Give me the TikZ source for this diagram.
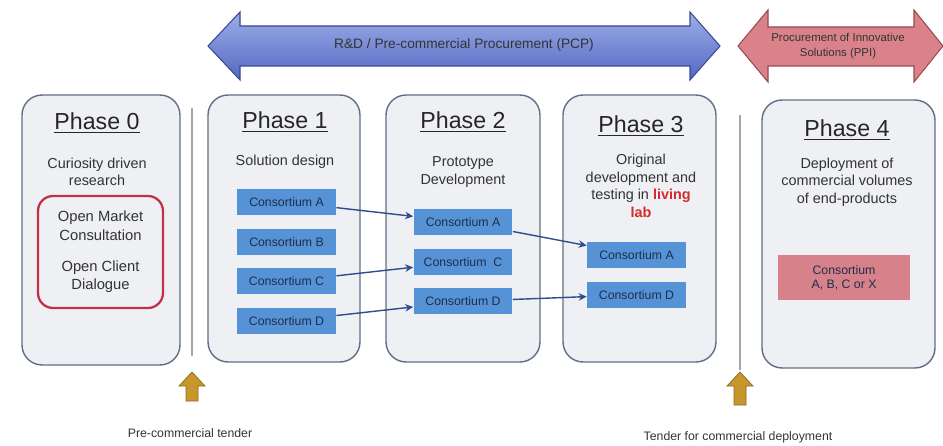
\documentclass[tikz,border=0pt]{standalone}
\usepackage{fontspec}
\setmainfont{Liberation Sans}
\usepackage{xcolor}
\usepackage{tikz}
\usetikzlibrary{arrows.meta, positioning}

\definecolor{phasefill}{HTML}{EEF0F4}
\definecolor{phaseline}{HTML}{5F6F86}
\definecolor{consblue}{HTML}{5693D6}
\definecolor{constext}{HTML}{1F2D4A}
\definecolor{linkblue}{HTML}{2F4D8C}
\definecolor{pcptop}{HTML}{9DAEE8}
\definecolor{pcpbot}{HTML}{5467C2}
\definecolor{pcpline}{HTML}{3A4A90}
\definecolor{ppifill}{HTML}{D9828A}
\definecolor{ppiline}{HTML}{9A4A52}
\definecolor{consrose}{HTML}{D7828A}
\definecolor{ringred}{HTML}{BE3446}
\definecolor{livingred}{HTML}{D42A2A}
\definecolor{gold}{HTML}{C9962B}
\definecolor{goldline}{HTML}{8A6A20}

\begin{document}
\begin{tikzpicture}[
    x=0.02cm, y=-0.02cm,
    node distance=0.26cm and 0.5cm,
    phase/.style={draw=phaseline, fill=phasefill, line width=0.8pt, rounded corners=0.4cm, minimum height=5.34cm},
    title/.style={font=\fontsize{13.2}{15}\selectfont, text=black!85},
    sub/.style={font=\fontsize{8.2}{10}\selectfont, align=center, text=black!80},
    cons/.style={fill=consblue, minimum width=1.98cm, minimum height=0.52cm, font=\fontsize{7}{8}\selectfont, text=constext, inner sep=0pt},
    link/.style={-{Stealth[length=1.6mm, width=1.5mm]}, draw=linkblue, line width=0.8pt},
    sep/.style={draw=gray!70, line width=1.2pt},
    tender/.style={fill=gold, draw=goldline, line width=0.4pt},
    foot/.style={font=\fontsize{7}{9}\selectfont, text=black!80}
]
\useasboundingbox (0,0) rectangle (943,446);

% Top arrows
\draw[pcpline, line width=0.6pt, top color=pcptop, bottom color=pcpbot]
    (208,46) -- (240,12) -- (240,26) -- (690,26) -- (690,12) -- (720,46)
    -- (690,80) -- (690,66) -- (240,66) -- (240,80) -- cycle;
\node[font=\fontsize{7.8}{9}\selectfont, text=black!80] (pcp) at (464,45) {R\&D / Pre-commercial Procurement (PCP)};
\draw[ppiline, line width=0.6pt, fill=ppifill]
    (738,46) -- (768,10) -- (768,27) -- (914,27) -- (914,10) -- (943,46)
    -- (914,82) -- (914,66) -- (768,66) -- (768,82) -- cycle;
\node[font=\fontsize{6.5}{8.6}\selectfont, align=center, text=black!80] (ppi) at (838,46) {Procurement of Innovative\\Solutions (PPI)};

% Phase boxes
\node[phase, minimum width=3.16cm, minimum height=5.4cm] (ph0) at (101,230) {};
\node[phase, minimum width=3.04cm] (ph1) at (284,228.5) {};
\node[phase, minimum width=3.08cm] (ph2) at (463,228.5) {};
\node[phase, minimum width=3.06cm] (ph3) at (639.5,228.5) {};
\node[phase, minimum width=3.46cm, minimum height=5.36cm] (ph4) at (848.5,234) {};

% Separators
\coordinate (s0top) at (192,108);
\coordinate (s0bot) at (192,356);
\coordinate (s1top) at (740,115);
\coordinate (s1bot) at (740,370);
\draw[sep] (s0top) -- (s0bot);
\draw[sep] (s1top) -- (s1bot);

% Titles
\node[title] (t0) at (97,123) {\underline{Phase 0}};
\node[title] (t1) at (285,122) {\underline{Phase 1}};
\node[title] (t2) at (463,122) {\underline{Phase 2}};
\node[title] (t3) at (641,126) {\underline{Phase 3}};
\node[title] (t4) at (847,130) {\underline{Phase 4}};

\node[sub] (d0) at (97,172) {Curiosity driven\\research};
\node[sub] (d1) at (285,162) {Solution design};
\node[sub] (d2) at (463,172) {Prototype\\Development};
\node[sub] (d3) at (641,186) {Original\\development and\\testing in \textcolor{livingred}{\textbf{living}}\\\textcolor{livingred}{\textbf{lab}}};
\node[sub] (d4) at (847,182) {Deployment of\\commercial volumes\\of end-products};

% Phase 0 dialogue
\node[draw=ringred, line width=1.3pt, rounded corners=0.3cm, minimum width=2.5cm, minimum height=2.24cm,
      sub, font=\fontsize{8.4}{10.5}\selectfont] (dialog) at (100.5,252)
      {Open Market\\Consultation\\[7pt]Open Client\\Dialogue};

% Consortia
\node[cons] (p1a) at (286.5,202) {Consortium A};
\node[cons, below=of p1a] (p1b) {Consortium B};
\node[cons, below=of p1b] (p1c) {Consortium C};
\node[cons, below=of p1c] (p1d) {Consortium D};

\node[cons] (p2a) at (463,222) {Consortium A};
\node[cons, below=of p2a] (p2c) {Consortium\ \ C};
\node[cons, below=of p2c] (p2d) {Consortium D};

\node[cons] (p3a) at (636.5,255) {Consortium A};
\node[cons, below=of p3a] (p3d) {Consortium D};

\node[cons, fill=consrose, minimum width=2.64cm, minimum height=0.92cm, align=center] (p4) at (844,277.5) {Consortium\\A, B, C or X};

\draw[link] (p1a) -- (p2a);
\draw[link] (p1c) -- (p2c);
\draw[link] (p1d) -- (p2d);
\draw[link] (p2a) -- (p3a);
\draw[link] (p2d) -- (p3d);

% Tenders
\draw[tender] (192,372) -- (205,386) -- (198,386) -- (198,401) -- (186,401) -- (186,386) -- (179,386) -- cycle;
\draw[tender] (740,372) -- (753,386) -- (746,386) -- (746,405) -- (734,405) -- (734,386) -- (727,386) -- cycle;
\node[foot] (pct) at (190,433) {Pre-commercial tender};
\node[foot] (tcd) at (738,437) {Tender for commercial deployment};

\end{tikzpicture}
\end{document}
